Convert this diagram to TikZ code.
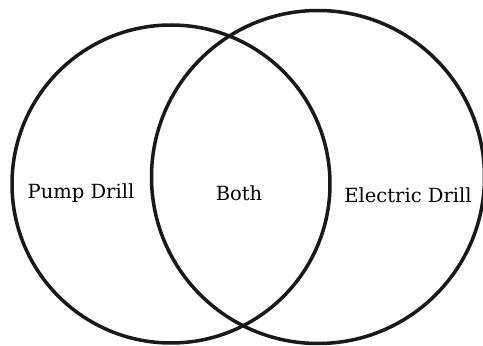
\documentclass[tikz,border=0pt]{standalone}
\usepackage{fontspec}
\setmainfont{DejaVu Serif}
\begin{document}
\begin{tikzpicture}[x=1pt,y=1pt,
  ring/.style={draw=black!90,line width=3.5pt},
  lbl/.style={font=\fontsize{19.5}{22}\selectfont,inner sep=0pt}]
\useasboundingbox (0,0) rectangle (483,346);
\fill[white] (0,0) rectangle (483,346);
\node[ring,circle,minimum size=318pt,inner sep=0pt] (pump) at (171,162) {};
\node[ring,circle,minimum size=333pt,inner sep=0pt] (elec) at (318,169) {};
\node[lbl] (pl) at (81,153) {Pump Drill};
\node[lbl] (bl) at (239,153) {Both};
\node[lbl] (el) at (408,151) {Electric Drill};
\end{tikzpicture}
\end{document}
